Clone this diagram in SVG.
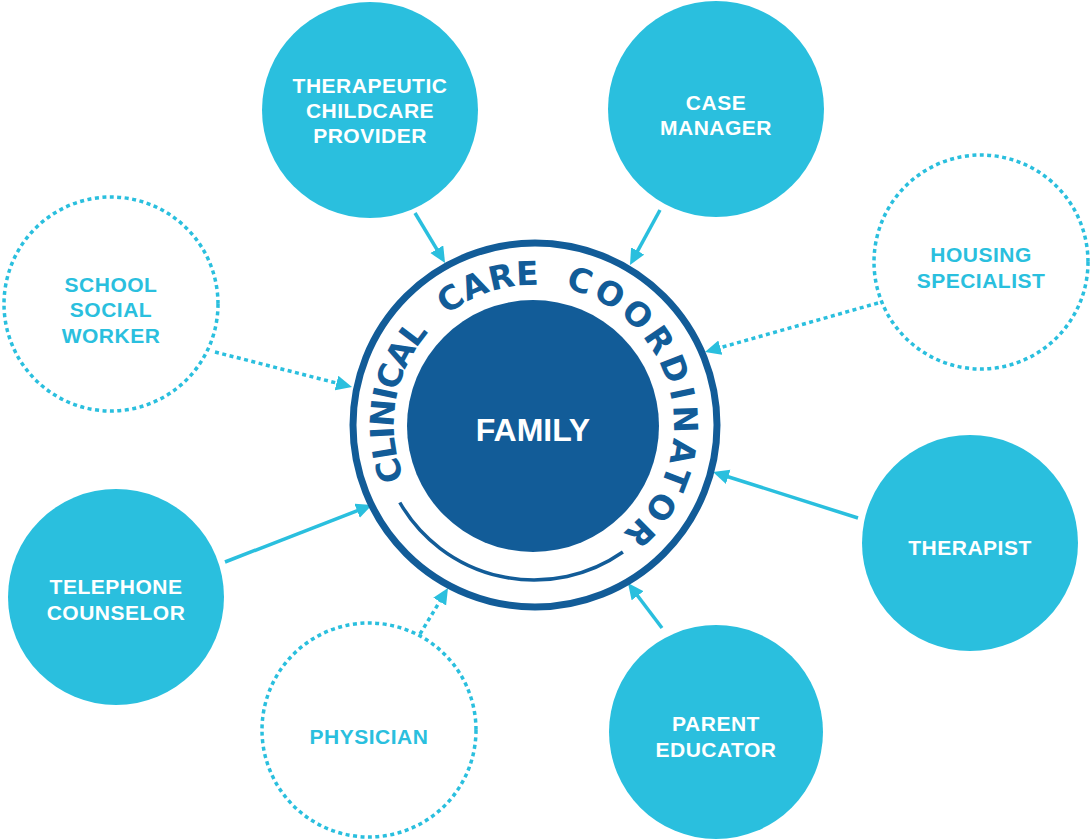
<svg xmlns="http://www.w3.org/2000/svg" width="1092" height="840" viewBox="0 0 1092 840">
<style>
.fill{fill:#2ABFDE}
.dot{fill:none;stroke:#2ABFDE;stroke-width:3.5;stroke-dasharray:4 3.5}
.lw{font-family:"Liberation Sans",Arial,sans-serif;font-weight:bold;font-size:21px;fill:#fff;text-anchor:middle;letter-spacing:0.5px}
.lc{font-family:"Liberation Sans",Arial,sans-serif;font-weight:bold;font-size:21px;fill:#2ABFDE;text-anchor:middle;letter-spacing:0.5px}
.sol{stroke:#2ABFDE;stroke-width:3.5;fill:none;marker-end:url(#ah)}
.dl{stroke:#2ABFDE;stroke-width:3.5;fill:none;stroke-dasharray:4 3.5;marker-end:url(#ah)}
</style>
<defs>
<marker id="ah" markerUnits="userSpaceOnUse" markerWidth="18" markerHeight="16" refX="6" refY="7.5" orient="auto">
<path d="M0,0 L16,7.5 L0,15 z" fill="#2ABFDE"/>
</marker>
<path id="rp" d="M404.5,478.5 A140,140 0 1 1 624,532"/>
</defs>

<g id="connectors">
<line class="sol" x1="415" y1="213" x2="439.9" y2="254.4"/>
<line class="sol" x1="660" y1="210" x2="634.8" y2="256.2"/>
<line class="dl" x1="878" y1="303" x2="714.6" y2="349.3"/>
<line class="dl" x1="215" y1="352" x2="342.3" y2="384.5"/>
<line class="sol" x1="225" y1="562" x2="362.7" y2="508.6"/>
<line class="dl" x1="420" y1="634" x2="442.8" y2="596.5"/>
<line class="sol" x1="662" y1="628" x2="634.0" y2="591.0"/>
<line class="sol" x1="858" y1="518" x2="722.5" y2="475.0"/>
</g>

<g id="center">
<circle cx="535" cy="425" r="182" fill="#fff" stroke="#125C98" stroke-width="7"/>
<circle cx="533" cy="426" r="126" fill="#125C98"/>
<path d="M399.8,502.5 A155,155 0 0 0 622.9,552.0" fill="none" stroke="#125C98" stroke-width="3.5"/>
<g font-family="DejaVu Sans, Liberation Sans, sans-serif" font-weight="bold" font-size="33" fill="#125C98">
<text><textPath href="#rp" startOffset="0" textLength="156" lengthAdjust="spacing">CLINICAL</textPath></text>
<text><textPath href="#rp" startOffset="181" textLength="99" lengthAdjust="spacing">CARE</textPath></text>
<text><textPath href="#rp" startOffset="306" textLength="312" lengthAdjust="spacing">COORDINATOR</textPath></text>
</g>
<text x="533" y="441" font-family="Liberation Sans, Arial, sans-serif" font-weight="bold" font-size="32" fill="#fff" text-anchor="middle">FAMILY</text>
</g>

<g id="therapeutic">
<circle class="fill" cx="370" cy="110" r="108"/>
<text class="lw" x="370" y="93">THERAPEUTIC</text>
<text class="lw" x="370" y="118">CHILDCARE</text>
<text class="lw" x="370" y="143">PROVIDER</text>
</g>

<g id="case-manager">
<circle class="fill" cx="716" cy="109" r="108"/>
<text class="lw" x="716" y="110">CASE</text>
<text class="lw" x="716" y="135">MANAGER</text>
</g>

<g id="housing">
<circle class="dot" cx="981" cy="262" r="107"/>
<text class="lc" x="981" y="262">HOUSING</text>
<text class="lc" x="981" y="288">SPECIALIST</text>
</g>

<g id="school">
<circle class="dot" cx="111" cy="304" r="107"/>
<text class="lc" x="111" y="292">SCHOOL</text>
<text class="lc" x="111" y="317">SOCIAL</text>
<text class="lc" x="111" y="343">WORKER</text>
</g>

<g id="therapist">
<circle class="fill" cx="970" cy="543" r="108"/>
<text class="lw" x="970" y="555">THERAPIST</text>
</g>

<g id="telephone">
<circle class="fill" cx="116" cy="597" r="108"/>
<text class="lw" x="116" y="594">TELEPHONE</text>
<text class="lw" x="116" y="620">COUNSELOR</text>
</g>

<g id="physician">
<circle class="dot" cx="369" cy="730" r="107"/>
<text class="lc" x="369" y="744">PHYSICIAN</text>
</g>

<g id="parent-educator">
<circle class="fill" cx="716" cy="732" r="107"/>
<text class="lw" x="716" y="731">PARENT</text>
<text class="lw" x="716" y="757">EDUCATOR</text>
</g>
</svg>
